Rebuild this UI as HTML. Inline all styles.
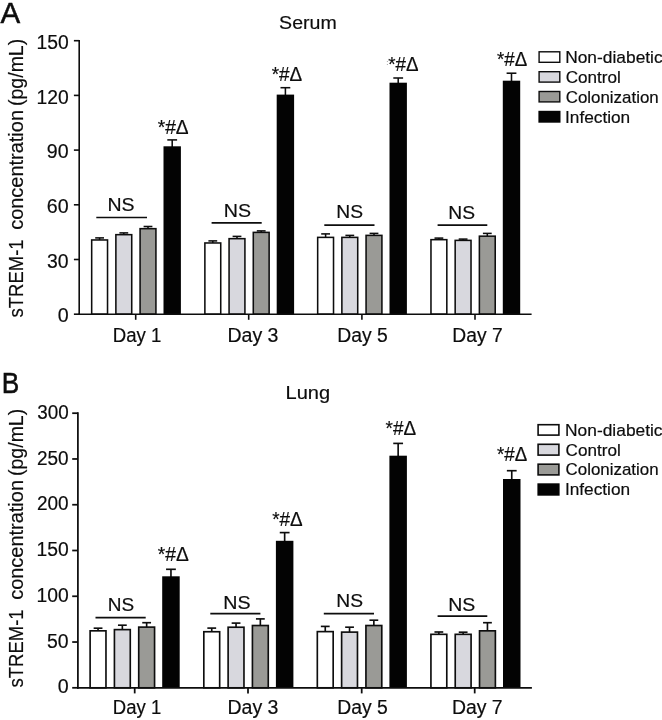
<!DOCTYPE html>
<html><head><meta charset="utf-8"><title>sTREM-1 concentration</title>
<style>
html,body{margin:0;padding:0;background:#fff;}
body{width:662px;height:720px;overflow:hidden;}
svg{display:block;will-change:transform;}
text{font-family:"Liberation Sans", sans-serif;fill:#0d0d0d;stroke:#0d0d0d;stroke-width:0.18px;}
</style></head><body>
<svg width="662" height="720" viewBox="0 0 662 720">
<rect width="662" height="720" fill="#ffffff"/>
<line x1="99.60" y1="237.90" x2="99.60" y2="240.20" stroke="#0d0d0d" stroke-width="1.55"/>
<line x1="95.20" y1="237.90" x2="104.00" y2="237.90" stroke="#0d0d0d" stroke-width="1.55"/>
<rect x="91.68" y="239.97" width="15.85" height="74.22" fill="#ffffff" stroke="#0d0d0d" stroke-width="1.55"/>
<line x1="123.80" y1="232.90" x2="123.80" y2="234.90" stroke="#0d0d0d" stroke-width="1.55"/>
<line x1="119.40" y1="232.90" x2="128.20" y2="232.90" stroke="#0d0d0d" stroke-width="1.55"/>
<rect x="115.88" y="234.67" width="15.85" height="79.53" fill="#d8d8de" stroke="#0d0d0d" stroke-width="1.55"/>
<line x1="148.00" y1="226.50" x2="148.00" y2="228.90" stroke="#0d0d0d" stroke-width="1.55"/>
<line x1="143.60" y1="226.50" x2="152.40" y2="226.50" stroke="#0d0d0d" stroke-width="1.55"/>
<rect x="140.08" y="228.67" width="15.85" height="85.53" fill="#9a9a96" stroke="#0d0d0d" stroke-width="1.55"/>
<line x1="172.20" y1="139.90" x2="172.20" y2="147.30" stroke="#0d0d0d" stroke-width="1.55"/>
<line x1="167.30" y1="139.90" x2="177.10" y2="139.90" stroke="#0d0d0d" stroke-width="1.55"/>
<rect x="163.50" y="146.30" width="17.40" height="167.90" fill="#030303"/>
<line x1="96.30" y1="217.50" x2="147.00" y2="217.50" stroke="#0d0d0d" stroke-width="1.7"/>
<text x="107.50" y="210.7" font-size="19.1" textLength="27.10" lengthAdjust="spacingAndGlyphs">NS</text>
<text x="157.69" y="133.75" font-size="19.5" textLength="30.99" lengthAdjust="spacingAndGlyphs">*#&#916;</text>
<text x="112.77" y="341.5" font-size="19.5" textLength="48.65" lengthAdjust="spacingAndGlyphs">Day 1</text>
<line x1="135.70" y1="314.20" x2="135.70" y2="319.80" stroke="#0d0d0d" stroke-width="1.6"/>
<line x1="212.80" y1="240.90" x2="212.80" y2="243.20" stroke="#0d0d0d" stroke-width="1.55"/>
<line x1="208.40" y1="240.90" x2="217.20" y2="240.90" stroke="#0d0d0d" stroke-width="1.55"/>
<rect x="204.88" y="242.97" width="15.85" height="71.22" fill="#ffffff" stroke="#0d0d0d" stroke-width="1.55"/>
<line x1="237.00" y1="236.40" x2="237.00" y2="238.90" stroke="#0d0d0d" stroke-width="1.55"/>
<line x1="232.60" y1="236.40" x2="241.40" y2="236.40" stroke="#0d0d0d" stroke-width="1.55"/>
<rect x="229.07" y="238.67" width="15.85" height="75.53" fill="#d8d8de" stroke="#0d0d0d" stroke-width="1.55"/>
<line x1="261.20" y1="230.90" x2="261.20" y2="232.60" stroke="#0d0d0d" stroke-width="1.55"/>
<line x1="256.80" y1="230.90" x2="265.60" y2="230.90" stroke="#0d0d0d" stroke-width="1.55"/>
<rect x="253.28" y="232.38" width="15.85" height="81.82" fill="#9a9a96" stroke="#0d0d0d" stroke-width="1.55"/>
<line x1="285.40" y1="87.70" x2="285.40" y2="95.60" stroke="#0d0d0d" stroke-width="1.55"/>
<line x1="280.50" y1="87.70" x2="290.30" y2="87.70" stroke="#0d0d0d" stroke-width="1.55"/>
<rect x="276.70" y="94.60" width="17.40" height="219.60" fill="#030303"/>
<line x1="211.60" y1="222.80" x2="261.70" y2="222.80" stroke="#0d0d0d" stroke-width="1.7"/>
<text x="223.69" y="216.6" font-size="19.1" textLength="27.32" lengthAdjust="spacingAndGlyphs">NS</text>
<text x="271.70" y="80.5" font-size="19.5" textLength="30.47" lengthAdjust="spacingAndGlyphs">*#&#916;</text>
<text x="227.40" y="341.5" font-size="19.5" textLength="51.07" lengthAdjust="spacingAndGlyphs">Day 3</text>
<line x1="248.70" y1="314.20" x2="248.70" y2="319.80" stroke="#0d0d0d" stroke-width="1.6"/>
<line x1="325.60" y1="233.90" x2="325.60" y2="237.60" stroke="#0d0d0d" stroke-width="1.55"/>
<line x1="321.20" y1="233.90" x2="330.00" y2="233.90" stroke="#0d0d0d" stroke-width="1.55"/>
<rect x="317.67" y="237.38" width="15.85" height="76.82" fill="#ffffff" stroke="#0d0d0d" stroke-width="1.55"/>
<line x1="349.80" y1="235.40" x2="349.80" y2="237.60" stroke="#0d0d0d" stroke-width="1.55"/>
<line x1="345.40" y1="235.40" x2="354.20" y2="235.40" stroke="#0d0d0d" stroke-width="1.55"/>
<rect x="341.87" y="237.38" width="15.85" height="76.82" fill="#d8d8de" stroke="#0d0d0d" stroke-width="1.55"/>
<line x1="374.00" y1="233.40" x2="374.00" y2="235.60" stroke="#0d0d0d" stroke-width="1.55"/>
<line x1="369.60" y1="233.40" x2="378.40" y2="233.40" stroke="#0d0d0d" stroke-width="1.55"/>
<rect x="366.07" y="235.38" width="15.85" height="78.82" fill="#9a9a96" stroke="#0d0d0d" stroke-width="1.55"/>
<line x1="398.20" y1="78.00" x2="398.20" y2="83.70" stroke="#0d0d0d" stroke-width="1.55"/>
<line x1="393.30" y1="78.00" x2="403.10" y2="78.00" stroke="#0d0d0d" stroke-width="1.55"/>
<rect x="389.50" y="82.70" width="17.40" height="231.50" fill="#030303"/>
<line x1="324.30" y1="225.10" x2="374.50" y2="225.10" stroke="#0d0d0d" stroke-width="1.7"/>
<text x="336.22" y="218.4" font-size="19.1" textLength="26.77" lengthAdjust="spacingAndGlyphs">NS</text>
<text x="388.20" y="70.5" font-size="19.5" textLength="30.27" lengthAdjust="spacingAndGlyphs">*#&#916;</text>
<text x="337.21" y="341.5" font-size="19.5" textLength="50.61" lengthAdjust="spacingAndGlyphs">Day 5</text>
<line x1="361.90" y1="314.20" x2="361.90" y2="319.80" stroke="#0d0d0d" stroke-width="1.6"/>
<line x1="438.90" y1="238.10" x2="438.90" y2="239.90" stroke="#0d0d0d" stroke-width="1.55"/>
<line x1="434.50" y1="238.10" x2="443.30" y2="238.10" stroke="#0d0d0d" stroke-width="1.55"/>
<rect x="430.97" y="239.67" width="15.85" height="74.53" fill="#ffffff" stroke="#0d0d0d" stroke-width="1.55"/>
<line x1="463.10" y1="239.10" x2="463.10" y2="240.60" stroke="#0d0d0d" stroke-width="1.55"/>
<line x1="458.70" y1="239.10" x2="467.50" y2="239.10" stroke="#0d0d0d" stroke-width="1.55"/>
<rect x="455.17" y="240.38" width="15.85" height="73.82" fill="#d8d8de" stroke="#0d0d0d" stroke-width="1.55"/>
<line x1="487.30" y1="233.40" x2="487.30" y2="236.40" stroke="#0d0d0d" stroke-width="1.55"/>
<line x1="482.90" y1="233.40" x2="491.70" y2="233.40" stroke="#0d0d0d" stroke-width="1.55"/>
<rect x="479.37" y="236.17" width="15.85" height="78.03" fill="#9a9a96" stroke="#0d0d0d" stroke-width="1.55"/>
<line x1="511.50" y1="73.20" x2="511.50" y2="81.70" stroke="#0d0d0d" stroke-width="1.55"/>
<line x1="506.60" y1="73.20" x2="516.40" y2="73.20" stroke="#0d0d0d" stroke-width="1.55"/>
<rect x="502.80" y="80.70" width="17.40" height="233.50" fill="#030303"/>
<line x1="437.60" y1="225.10" x2="487.30" y2="225.10" stroke="#0d0d0d" stroke-width="1.7"/>
<text x="448.22" y="218.8" font-size="19.1" textLength="26.77" lengthAdjust="spacingAndGlyphs">NS</text>
<text x="497.00" y="66.4" font-size="19.5" textLength="30.17" lengthAdjust="spacingAndGlyphs">*#&#916;</text>
<text x="452.32" y="341.5" font-size="19.5" textLength="50.35" lengthAdjust="spacingAndGlyphs">Day 7</text>
<line x1="475.00" y1="314.20" x2="475.00" y2="319.80" stroke="#0d0d0d" stroke-width="1.6"/>
<line x1="79.20" y1="39.90" x2="79.20" y2="315.00" stroke="#0d0d0d" stroke-width="1.6"/>
<line x1="78.40" y1="314.20" x2="531.60" y2="314.20" stroke="#0d0d0d" stroke-width="1.6"/>
<line x1="73.90" y1="314.20" x2="79.20" y2="314.20" stroke="#0d0d0d" stroke-width="1.6"/>
<text x="57.73" y="322.4" font-size="19.5" textLength="10.94" lengthAdjust="spacingAndGlyphs">0</text>
<line x1="73.90" y1="259.50" x2="79.20" y2="259.50" stroke="#0d0d0d" stroke-width="1.6"/>
<text x="47.06" y="267.7" font-size="19.5" textLength="21.60" lengthAdjust="spacingAndGlyphs">30</text>
<line x1="73.90" y1="204.80" x2="79.20" y2="204.80" stroke="#0d0d0d" stroke-width="1.6"/>
<text x="46.80" y="213.0" font-size="19.5" textLength="21.88" lengthAdjust="spacingAndGlyphs">60</text>
<line x1="73.90" y1="150.10" x2="79.20" y2="150.10" stroke="#0d0d0d" stroke-width="1.6"/>
<text x="46.88" y="158.3" font-size="19.5" textLength="21.79" lengthAdjust="spacingAndGlyphs">90</text>
<line x1="73.90" y1="95.40" x2="79.20" y2="95.40" stroke="#0d0d0d" stroke-width="1.6"/>
<text x="36.43" y="103.6" font-size="19.5" textLength="32.23" lengthAdjust="spacingAndGlyphs">120</text>
<line x1="73.90" y1="40.70" x2="79.20" y2="40.70" stroke="#0d0d0d" stroke-width="1.6"/>
<text x="36.43" y="48.9" font-size="19.5" textLength="32.23" lengthAdjust="spacingAndGlyphs">150</text>
<text x="279.10" y="29.3" font-size="19.1" textLength="57.60" lengthAdjust="spacingAndGlyphs">Serum</text>
<text transform="translate(0.5,22.5) scale(0.975,1)" font-size="30.3" style="stroke-width:0.5px">A</text>
<text transform="translate(22.9,317.42) rotate(-90)" font-size="19.5" textLength="78.03" lengthAdjust="spacingAndGlyphs">sTREM-1</text>
<text transform="translate(22.9,229.84) rotate(-90)" font-size="19.5" textLength="119.83" lengthAdjust="spacingAndGlyphs">concentration</text>
<text transform="translate(22.9,105.96) rotate(-90)" font-size="19.5" textLength="67.17" lengthAdjust="spacingAndGlyphs">(pg/mL)</text>
<rect x="539.10" y="51.80" width="20.70" height="10.50" fill="#ffffff" stroke="#0d0d0d" stroke-width="1.4"/>
<text x="565.18" y="63.0" font-size="15.7" textLength="97.48" lengthAdjust="spacingAndGlyphs">Non-diabetic</text>
<rect x="539.10" y="71.70" width="20.70" height="10.40" fill="#d8d8de" stroke="#0d0d0d" stroke-width="1.4"/>
<text x="565.73" y="82.9" font-size="15.7" textLength="55.13" lengthAdjust="spacingAndGlyphs">Control</text>
<rect x="539.10" y="91.50" width="20.70" height="10.40" fill="#9a9a96" stroke="#0d0d0d" stroke-width="1.4"/>
<text x="565.74" y="102.6" font-size="15.7" textLength="92.97" lengthAdjust="spacingAndGlyphs">Colonization</text>
<rect x="538.4" y="110.8" width="22.10" height="11.90" fill="#030303"/>
<text x="565.01" y="122.6" font-size="15.7" textLength="65.21" lengthAdjust="spacingAndGlyphs">Infection</text>
<line x1="98.05" y1="628.20" x2="98.05" y2="631.00" stroke="#0d0d0d" stroke-width="1.65"/>
<line x1="93.65" y1="628.20" x2="102.45" y2="628.20" stroke="#0d0d0d" stroke-width="1.65"/>
<rect x="90.12" y="630.83" width="15.85" height="56.97" fill="#ffffff" stroke="#0d0d0d" stroke-width="1.65"/>
<line x1="122.35" y1="625.20" x2="122.35" y2="629.80" stroke="#0d0d0d" stroke-width="1.65"/>
<line x1="117.95" y1="625.20" x2="126.75" y2="625.20" stroke="#0d0d0d" stroke-width="1.65"/>
<rect x="114.42" y="629.62" width="15.85" height="58.17" fill="#d8d8de" stroke="#0d0d0d" stroke-width="1.65"/>
<line x1="146.65" y1="622.70" x2="146.65" y2="627.30" stroke="#0d0d0d" stroke-width="1.65"/>
<line x1="142.25" y1="622.70" x2="151.05" y2="622.70" stroke="#0d0d0d" stroke-width="1.65"/>
<rect x="138.72" y="627.12" width="15.85" height="60.67" fill="#9a9a96" stroke="#0d0d0d" stroke-width="1.65"/>
<line x1="170.95" y1="569.30" x2="170.95" y2="577.30" stroke="#0d0d0d" stroke-width="1.65"/>
<line x1="166.05" y1="569.30" x2="175.85" y2="569.30" stroke="#0d0d0d" stroke-width="1.65"/>
<rect x="162.20" y="576.30" width="17.50" height="111.50" fill="#030303"/>
<line x1="95.50" y1="617.70" x2="145.70" y2="617.70" stroke="#0d0d0d" stroke-width="1.8"/>
<text x="107.74" y="610.6" font-size="19.1" textLength="26.44" lengthAdjust="spacingAndGlyphs">NS</text>
<text x="157.79" y="560.9" font-size="19.5" textLength="30.99" lengthAdjust="spacingAndGlyphs">*#&#916;</text>
<text x="112.78" y="714.3" font-size="19.5" textLength="48.43" lengthAdjust="spacingAndGlyphs">Day 1</text>
<line x1="134.70" y1="687.80" x2="134.70" y2="693.40" stroke="#0d0d0d" stroke-width="1.75"/>
<line x1="211.75" y1="628.10" x2="211.75" y2="631.90" stroke="#0d0d0d" stroke-width="1.65"/>
<line x1="207.35" y1="628.10" x2="216.15" y2="628.10" stroke="#0d0d0d" stroke-width="1.65"/>
<rect x="203.82" y="631.73" width="15.85" height="56.07" fill="#ffffff" stroke="#0d0d0d" stroke-width="1.65"/>
<line x1="236.05" y1="623.10" x2="236.05" y2="627.40" stroke="#0d0d0d" stroke-width="1.65"/>
<line x1="231.65" y1="623.10" x2="240.45" y2="623.10" stroke="#0d0d0d" stroke-width="1.65"/>
<rect x="228.12" y="627.23" width="15.85" height="60.57" fill="#d8d8de" stroke="#0d0d0d" stroke-width="1.65"/>
<line x1="260.35" y1="618.90" x2="260.35" y2="625.70" stroke="#0d0d0d" stroke-width="1.65"/>
<line x1="255.95" y1="618.90" x2="264.75" y2="618.90" stroke="#0d0d0d" stroke-width="1.65"/>
<rect x="252.42" y="625.52" width="15.85" height="62.28" fill="#9a9a96" stroke="#0d0d0d" stroke-width="1.65"/>
<line x1="284.65" y1="532.60" x2="284.65" y2="541.80" stroke="#0d0d0d" stroke-width="1.65"/>
<line x1="279.75" y1="532.60" x2="289.55" y2="532.60" stroke="#0d0d0d" stroke-width="1.65"/>
<rect x="275.90" y="540.80" width="17.50" height="147.00" fill="#030303"/>
<line x1="210.30" y1="613.60" x2="260.40" y2="613.60" stroke="#0d0d0d" stroke-width="1.8"/>
<text x="223.39" y="608.8" font-size="19.1" textLength="27.32" lengthAdjust="spacingAndGlyphs">NS</text>
<text x="272.20" y="525.5" font-size="19.5" textLength="30.47" lengthAdjust="spacingAndGlyphs">*#&#916;</text>
<text x="227.40" y="714.3" font-size="19.5" textLength="51.07" lengthAdjust="spacingAndGlyphs">Day 3</text>
<line x1="248.00" y1="687.80" x2="248.00" y2="693.40" stroke="#0d0d0d" stroke-width="1.75"/>
<line x1="325.25" y1="626.40" x2="325.25" y2="631.80" stroke="#0d0d0d" stroke-width="1.65"/>
<line x1="320.85" y1="626.40" x2="329.65" y2="626.40" stroke="#0d0d0d" stroke-width="1.65"/>
<rect x="317.32" y="631.62" width="15.85" height="56.17" fill="#ffffff" stroke="#0d0d0d" stroke-width="1.65"/>
<line x1="349.55" y1="627.20" x2="349.55" y2="632.30" stroke="#0d0d0d" stroke-width="1.65"/>
<line x1="345.15" y1="627.20" x2="353.95" y2="627.20" stroke="#0d0d0d" stroke-width="1.65"/>
<rect x="341.62" y="632.12" width="15.85" height="55.67" fill="#d8d8de" stroke="#0d0d0d" stroke-width="1.65"/>
<line x1="373.85" y1="620.20" x2="373.85" y2="625.70" stroke="#0d0d0d" stroke-width="1.65"/>
<line x1="369.45" y1="620.20" x2="378.25" y2="620.20" stroke="#0d0d0d" stroke-width="1.65"/>
<rect x="365.93" y="625.52" width="15.85" height="62.28" fill="#9a9a96" stroke="#0d0d0d" stroke-width="1.65"/>
<line x1="398.15" y1="443.40" x2="398.15" y2="456.70" stroke="#0d0d0d" stroke-width="1.65"/>
<line x1="393.25" y1="443.40" x2="403.05" y2="443.40" stroke="#0d0d0d" stroke-width="1.65"/>
<rect x="389.40" y="455.70" width="17.50" height="232.10" fill="#030303"/>
<line x1="323.80" y1="613.70" x2="374.00" y2="613.70" stroke="#0d0d0d" stroke-width="1.8"/>
<text x="336.22" y="606.9" font-size="19.1" textLength="26.77" lengthAdjust="spacingAndGlyphs">NS</text>
<text x="385.60" y="434.7" font-size="19.5" textLength="30.47" lengthAdjust="spacingAndGlyphs">*#&#916;</text>
<text x="337.21" y="714.3" font-size="19.5" textLength="50.61" lengthAdjust="spacingAndGlyphs">Day 5</text>
<line x1="361.70" y1="687.80" x2="361.70" y2="693.40" stroke="#0d0d0d" stroke-width="1.75"/>
<line x1="438.85" y1="632.00" x2="438.85" y2="634.50" stroke="#0d0d0d" stroke-width="1.65"/>
<line x1="434.45" y1="632.00" x2="443.25" y2="632.00" stroke="#0d0d0d" stroke-width="1.65"/>
<rect x="430.93" y="634.33" width="15.85" height="53.47" fill="#ffffff" stroke="#0d0d0d" stroke-width="1.65"/>
<line x1="463.15" y1="632.20" x2="463.15" y2="634.50" stroke="#0d0d0d" stroke-width="1.65"/>
<line x1="458.75" y1="632.20" x2="467.55" y2="632.20" stroke="#0d0d0d" stroke-width="1.65"/>
<rect x="455.23" y="634.33" width="15.85" height="53.47" fill="#d8d8de" stroke="#0d0d0d" stroke-width="1.65"/>
<line x1="487.45" y1="622.70" x2="487.45" y2="631.00" stroke="#0d0d0d" stroke-width="1.65"/>
<line x1="483.05" y1="622.70" x2="491.85" y2="622.70" stroke="#0d0d0d" stroke-width="1.65"/>
<rect x="479.53" y="630.83" width="15.85" height="56.97" fill="#9a9a96" stroke="#0d0d0d" stroke-width="1.65"/>
<line x1="511.75" y1="470.70" x2="511.75" y2="480.00" stroke="#0d0d0d" stroke-width="1.65"/>
<line x1="506.85" y1="470.70" x2="516.65" y2="470.70" stroke="#0d0d0d" stroke-width="1.65"/>
<rect x="503.00" y="479.00" width="17.50" height="208.80" fill="#030303"/>
<line x1="437.60" y1="616.20" x2="487.30" y2="616.20" stroke="#0d0d0d" stroke-width="1.8"/>
<text x="448.20" y="610.7" font-size="19.1" textLength="27.10" lengthAdjust="spacingAndGlyphs">NS</text>
<text x="497.00" y="461" font-size="19.5" textLength="30.17" lengthAdjust="spacingAndGlyphs">*#&#916;</text>
<text x="451.91" y="714.3" font-size="19.5" textLength="50.77" lengthAdjust="spacingAndGlyphs">Day 7</text>
<line x1="474.70" y1="687.80" x2="474.70" y2="693.40" stroke="#0d0d0d" stroke-width="1.75"/>
<line x1="77.90" y1="412.32" x2="77.90" y2="688.67" stroke="#0d0d0d" stroke-width="1.75"/>
<line x1="77.03" y1="687.80" x2="531.90" y2="687.80" stroke="#0d0d0d" stroke-width="1.75"/>
<line x1="72.20" y1="687.80" x2="77.90" y2="687.80" stroke="#0d0d0d" stroke-width="1.75"/>
<text x="57.73" y="693.4" font-size="19.5" textLength="10.94" lengthAdjust="spacingAndGlyphs">0</text>
<line x1="72.20" y1="642.03" x2="77.90" y2="642.03" stroke="#0d0d0d" stroke-width="1.75"/>
<text x="47.02" y="647.63" font-size="19.5" textLength="21.64" lengthAdjust="spacingAndGlyphs">50</text>
<line x1="72.20" y1="596.27" x2="77.90" y2="596.27" stroke="#0d0d0d" stroke-width="1.75"/>
<text x="36.43" y="601.87" font-size="19.5" textLength="32.23" lengthAdjust="spacingAndGlyphs">100</text>
<line x1="72.20" y1="550.50" x2="77.90" y2="550.50" stroke="#0d0d0d" stroke-width="1.75"/>
<text x="36.43" y="556.1" font-size="19.5" textLength="32.23" lengthAdjust="spacingAndGlyphs">150</text>
<line x1="72.20" y1="504.73" x2="77.90" y2="504.73" stroke="#0d0d0d" stroke-width="1.75"/>
<text x="36.95" y="510.33" font-size="19.5" textLength="31.70" lengthAdjust="spacingAndGlyphs">200</text>
<line x1="72.20" y1="458.97" x2="77.90" y2="458.97" stroke="#0d0d0d" stroke-width="1.75"/>
<text x="36.95" y="464.57" font-size="19.5" textLength="31.70" lengthAdjust="spacingAndGlyphs">250</text>
<line x1="72.20" y1="413.20" x2="77.90" y2="413.20" stroke="#0d0d0d" stroke-width="1.75"/>
<text x="37.18" y="418.8" font-size="19.5" textLength="31.46" lengthAdjust="spacingAndGlyphs">300</text>
<text x="285.55" y="399.2" font-size="19.1" textLength="44.64" lengthAdjust="spacingAndGlyphs">Lung</text>
<text transform="translate(1.7,392.7) scale(0.92,1)" font-size="28.6" style="stroke-width:0.5px">B</text>
<text transform="translate(22.9,687.42) rotate(-90)" font-size="19.5" textLength="78.03" lengthAdjust="spacingAndGlyphs">sTREM-1</text>
<text transform="translate(22.9,599.84) rotate(-90)" font-size="19.5" textLength="119.83" lengthAdjust="spacingAndGlyphs">concentration</text>
<text transform="translate(22.9,475.96) rotate(-90)" font-size="19.5" textLength="67.17" lengthAdjust="spacingAndGlyphs">(pg/mL)</text>
<rect x="538.10" y="424.70" width="20.80" height="10.40" fill="#ffffff" stroke="#0d0d0d" stroke-width="1.6"/>
<text x="565.08" y="435.7" font-size="15.7" textLength="97.48" lengthAdjust="spacingAndGlyphs">Non-diabetic</text>
<rect x="538.10" y="444.30" width="20.80" height="10.80" fill="#d8d8de" stroke="#0d0d0d" stroke-width="1.6"/>
<text x="565.63" y="455.7" font-size="15.7" textLength="55.13" lengthAdjust="spacingAndGlyphs">Control</text>
<rect x="538.10" y="464.20" width="20.80" height="10.70" fill="#9a9a96" stroke="#0d0d0d" stroke-width="1.6"/>
<text x="565.64" y="475.3" font-size="15.7" textLength="92.97" lengthAdjust="spacingAndGlyphs">Colonization</text>
<rect x="537.4" y="483.3" width="22.20" height="12.40" fill="#030303"/>
<text x="564.91" y="495.3" font-size="15.7" textLength="65.21" lengthAdjust="spacingAndGlyphs">Infection</text>
<circle cx="387.3" cy="61.4" r="0.5" fill="#888"/><circle cx="387.3" cy="64.4" r="0.5" fill="#888"/>
</svg>
</body></html>
